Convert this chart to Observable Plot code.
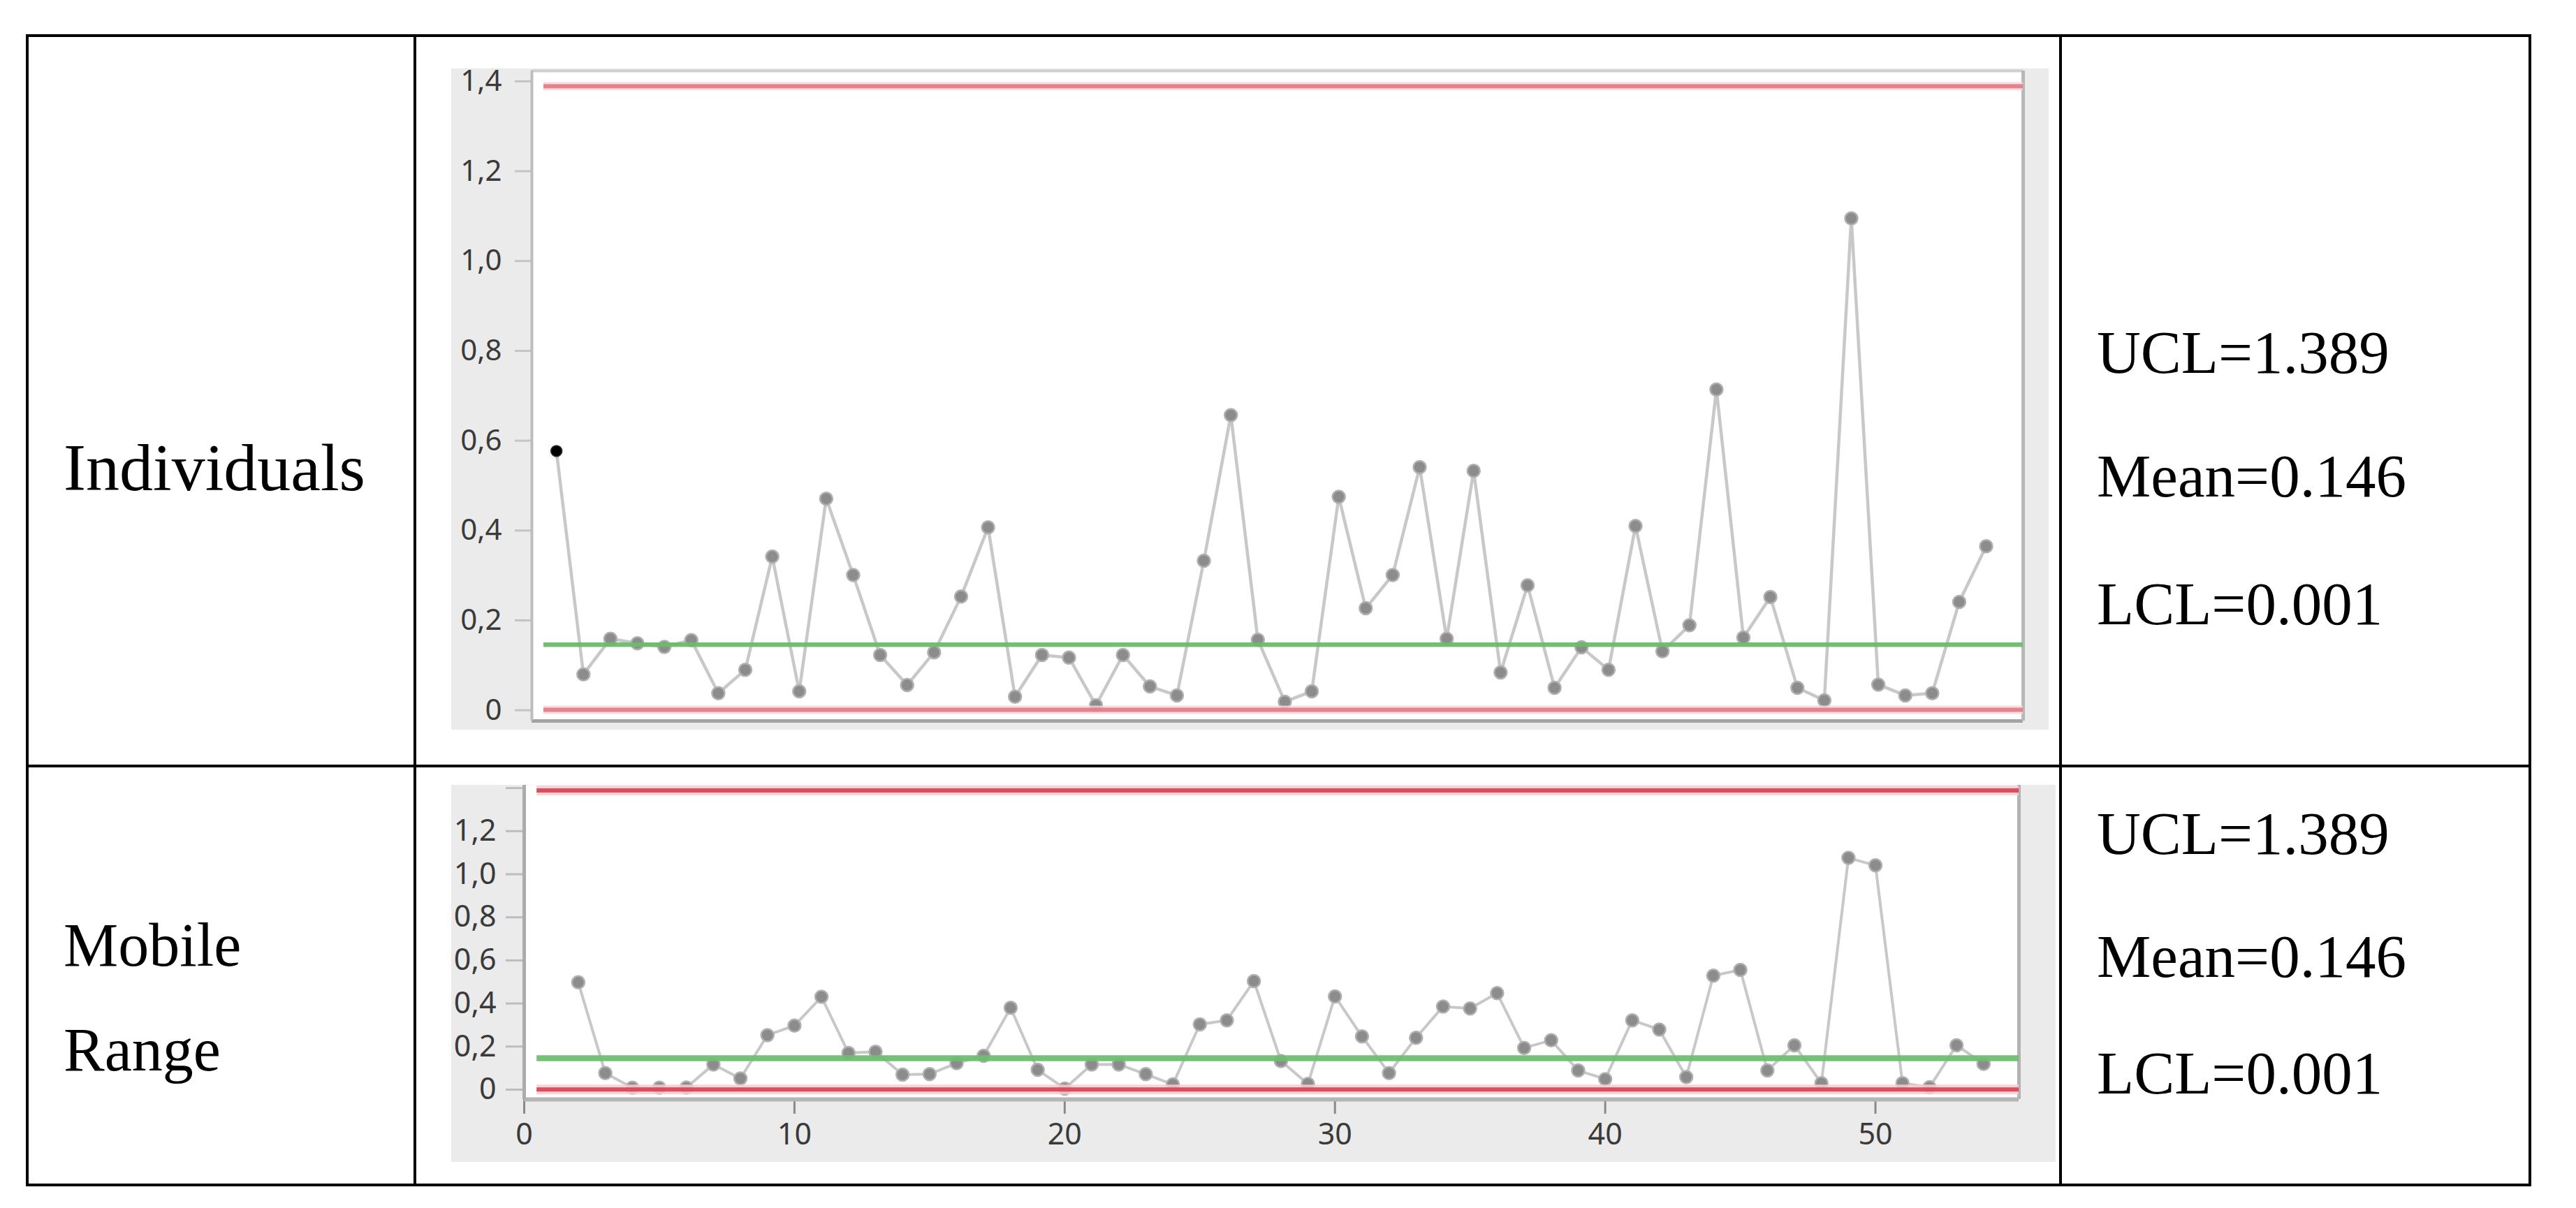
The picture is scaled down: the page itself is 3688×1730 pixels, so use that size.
<!DOCTYPE html>
<html>
<head>
<meta charset="utf-8">
<script src="https://cdn.jsdelivr.net/npm/d3@7"></script>
<script src="https://cdn.jsdelivr.net/npm/@observablehq/plot@0.6"></script>
<style>
  html, body { margin: 0; padding: 0; background: #ffffff; }
  #page { position: relative; width: 3688px; height: 1730px; overflow: hidden; background: #ffffff; }
  .line { position: absolute; background: #000000; }
</style>
</head>
<body>
<div id="page"></div>
<script>
// ---------- data ----------
const sampleNumbers = [1,2,3,4,5,6,7,8,9,10,11,12,13,14,15,16,17,18,19,20,21,22,23,24,25,26,27,
  28,29,30,31,32,33,34,35,36,37,38,39,40,41,42,43,44,45,46,47,48,49,50,51,52,53,54];
const individuals = [0.577,0.080,0.159,0.149,0.141,0.156,0.038,0.090,0.342,0.042,0.471,0.301,
  0.123,0.056,0.129,0.253,0.407,0.030,0.123,0.117,0.011,0.123,0.053,0.033,0.333,0.657,0.157,
  0.019,0.042,0.475,0.227,0.301,0.541,0.159,0.533,0.084,0.278,0.050,0.140,0.090,0.410,0.131,
  0.189,0.714,0.162,0.252,0.050,0.022,1.095,0.057,0.033,0.038,0.241,0.365];
const rangeNumbers = [2,3,4,5,6,7,8,9,10,11,12,13,14,15,16,17,18,19,20,21,22,23,24,25,26,27,
  28,29,30,31,32,33,34,35,36,37,38,39,40,41,42,43,44,45,46,47,48,49,50,51,52,53,54];
const movingRange = [0.498,0.077,0.009,0.009,0.010,0.117,0.052,0.253,0.297,0.431,0.170,0.176,
  0.070,0.072,0.123,0.157,0.380,0.092,0.005,0.117,0.117,0.072,0.024,0.303,0.322,0.504,0.133,
  0.027,0.433,0.247,0.077,0.241,0.386,0.377,0.448,0.194,0.229,0.089,0.049,0.322,0.279,0.058,
  0.529,0.556,0.089,0.206,0.030,1.076,1.041,0.030,0.011,0.206,0.120];
const limitValues = { ucl: 1.389, mean: 0.146, lcl: 0.001 };
const limitTexts = ["UCL=1.389", "Mean=0.146", "LCL=0.001"];
const rowTitleTop = ["Individuals"];
const rowTitleBottom = ["Mobile", "Range"];
const yTicksTop = [0, 0.2, 0.4, 0.6, 0.8, 1.0, 1.2, 1.4];
const yTicksBottom = [0, 0.2, 0.4, 0.6, 0.8, 1.0, 1.2, 1.4];
const xTicksBottom = [0, 10, 20, 30, 40, 50];

// ---------- helpers ----------
const page = document.getElementById("page");
const fmt = d => d === 0 ? "0" : d.toFixed(1).replace(".", ",");
const indData = sampleNumbers.map((s, i) => ({ s, v: individuals[i] }));
const mrData = rangeNumbers.map((s, i) => ({ s, v: movingRange[i] }));

// ---------- table lines ----------
function addLine(left, top, width, height) {
  const d = document.createElement("div");
  d.className = "line";
  Object.assign(d.style, { left: left + "px", top: top + "px", width: width + "px", height: height + "px" });
  page.appendChild(d);
}
addLine(37, 49, 3587, 4);     // top border
addLine(37, 1695, 3587, 4);   // bottom border
addLine(37, 49, 4, 1650);     // left border
addLine(3620, 49, 4, 1650);   // right border
addLine(592, 49, 4, 1650);    // first column divider
addLine(2948, 49, 4, 1650);   // second column divider
addLine(37, 1095, 3587, 4);   // row divider

// ---------- text overlay ----------
const ns = "http://www.w3.org/2000/svg";
const overlay = document.createElementNS(ns, "svg");
overlay.setAttribute("width", 3688);
overlay.setAttribute("height", 1730);
overlay.style.position = "absolute";
overlay.style.left = "0px";
overlay.style.top = "0px";
page.appendChild(overlay);
function addText(str, x, y, size) {
  const t = document.createElementNS(ns, "text");
  t.setAttribute("x", x);
  t.setAttribute("y", y);
  t.setAttribute("font-family", "'Liberation Serif', 'Times New Roman', serif");
  t.setAttribute("font-size", size);
  t.setAttribute("fill", "#000");
  t.textContent = str;
  overlay.appendChild(t);
}
addText(rowTitleTop[0], 91, 702, 96);
addText(rowTitleBottom[0], 91, 1383, 88);
addText(rowTitleBottom[1], 91, 1533, 88);
[534, 711, 894].forEach((y, i) => addText(limitTexts[i], 3002, y, 87));
[1223, 1399, 1566].forEach((y, i) => addText(limitTexts[i], 3002, y, 87));

// ---------- Individuals chart ----------
const topX = [0.09, 55.37];
const topY = [-0.0239, 1.4233];
const topPlot = Plot.plot({
  width: 2287, height: 947,
  marginLeft: 115, marginRight: 37, marginTop: 3, marginBottom: 13,
  x: { domain: topX, axis: null },
  y: { domain: topY, axis: null },
  style: { background: "#ebebeb", fontFamily: "'Noto Sans', 'Open Sans', sans-serif", fontSize: "42px", overflow: "visible" },
  marks: [
    Plot.frame({ fill: "white", stroke: "none" }),
    Plot.axisY(yTicksTop, { tickSize: 24, tickPadding: 19, tickFormat: fmt, stroke: "#c4c4c4", strokeWidth: 3, fill: "#3a3a3a", fontSize: 42, label: null }),
    Plot.ruleY([topY[0]], { stroke: "#a3a3a3", strokeWidth: 5 }),
    Plot.ruleY([topY[1]], { stroke: "#cfcfcf", strokeWidth: 4 }),
    Plot.ruleX([topX[0]], { stroke: "#bdbdbd", strokeWidth: 4 }),
    Plot.ruleX([topX[1]], { stroke: "#b8b8b8", strokeWidth: 5 }),
    Plot.line(indData, { x: "s", y: "v", stroke: "#c8c8c8", strokeWidth: 4.5 }),
    Plot.dot(indData, { filter: d => d.s !== 1, x: "s", y: "v", r: 9, fill: "#8c8c8c", stroke: "#b0b0b0", strokeWidth: 2.5 }),
    Plot.dot(indData, { filter: d => d.s === 1, x: "s", y: "v", r: 8, fill: "#000000", stroke: "#333", strokeWidth: 1.5 }),
    Plot.ruleY([limitValues.ucl, limitValues.lcl], { x1: 0.53, x2: topX[1], stroke: "#f6d4d9", strokeWidth: 12, strokeOpacity: 0.8 }),
    Plot.ruleY([limitValues.ucl, limitValues.lcl], { x1: 0.53, x2: topX[1], stroke: "#e47985", strokeWidth: 6, strokeOpacity: 0.92 }),
    Plot.ruleY([limitValues.mean], { x1: 0.53, x2: topX[1], stroke: "#6cbb6c", strokeWidth: 6.5, strokeOpacity: 0.95 })
  ]
});
Object.assign(topPlot.style, { position: "absolute", left: "646px", top: "98px" });
page.appendChild(topPlot);

// ---------- Moving range chart ----------
const botX = [0, 55.31];
const botY = [-0.0454, 1.4133];
const botPlot = Plot.plot({
  width: 2297, height: 540,
  marginLeft: 104, marginRight: 53, marginTop: 0, marginBottom: 90,
  x: { domain: botX, axis: null },
  y: { domain: botY, axis: null },
  style: { background: "#ebebeb", fontFamily: "'Noto Sans', 'Open Sans', sans-serif", fontSize: "43px", overflow: "visible" },
  marks: [
    Plot.frame({ fill: "white", stroke: "none" }),
    Plot.axisY(yTicksBottom, { tickSize: 26, tickPadding: 14, tickFormat: d => d > 1.3 ? "" : fmt(d), stroke: "#bdbdbd", strokeWidth: 3, fill: "#3a3a3a", fontSize: 43, label: null }),
    Plot.axisX(xTicksBottom, { tickSize: 21, tickPadding: 13, tickFormat: d => String(d), stroke: "#8a8a8a", strokeWidth: 3, fill: "#3a3a3a", fontSize: 43, label: null }),
    Plot.ruleY([botY[0]], { stroke: "#b5b5b5", strokeWidth: 6 }),
    Plot.ruleX([botX[0]], { stroke: "#acacac", strokeWidth: 5 }),
    Plot.ruleX([botX[1]], { stroke: "#b3b3b3", strokeWidth: 5 }),
    Plot.line(mrData, { x: "s", y: "v", stroke: "#c8c8c8", strokeWidth: 4 }),
    Plot.dot(mrData, { x: "s", y: "v", r: 9, fill: "#8c8c8c", stroke: "#b0b0b0", strokeWidth: 2.5 }),
    Plot.ruleY([limitValues.ucl, limitValues.lcl], { x1: 0.47, x2: botX[1], stroke: "#f6cdd3", strokeWidth: 14, strokeOpacity: 0.85 }),
    Plot.ruleY([limitValues.ucl, limitValues.lcl], { x1: 0.47, x2: botX[1], stroke: "#dc4656", strokeWidth: 6, strokeOpacity: 0.95 }),
    Plot.ruleY([limitValues.mean], { x1: 0.47, x2: botX[1], stroke: "#70be70", strokeWidth: 8.5, strokeOpacity: 0.95 })
  ]
});
Object.assign(botPlot.style, { position: "absolute", left: "646px", top: "1124px" });
page.appendChild(botPlot);
</script>
</body>
</html>
